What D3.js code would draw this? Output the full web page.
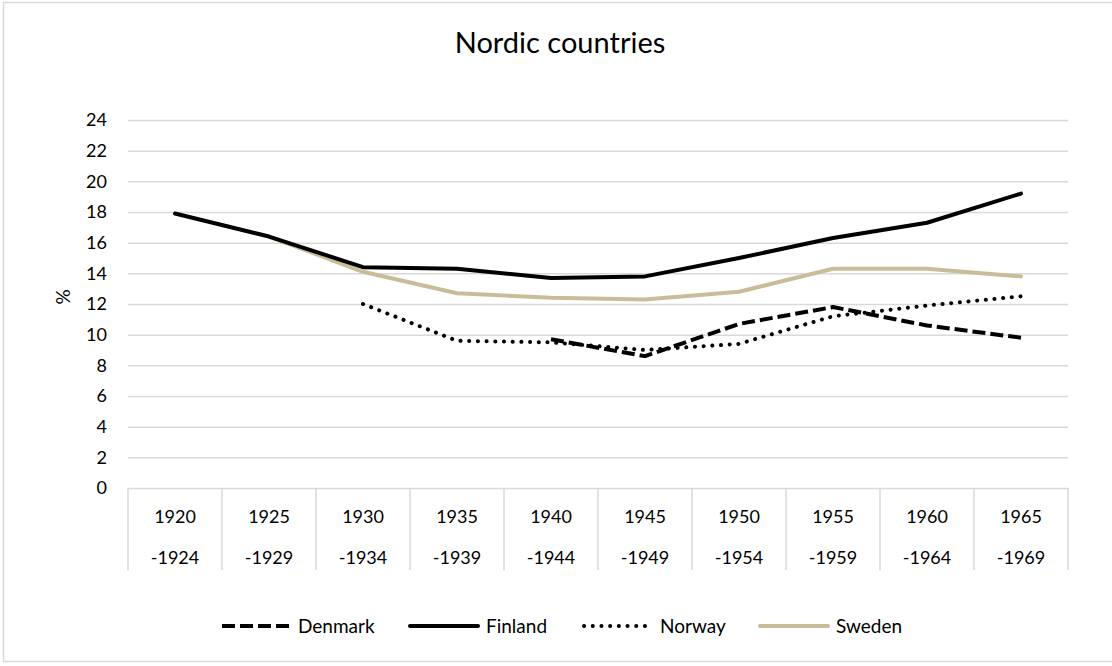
<!DOCTYPE html>
<html>
<head>
<meta charset="utf-8">
<script src="https://cdn.jsdelivr.net/npm/d3@7"></script>
<style>
  body { margin: 0; background: #fff; }
  text { font-family: Lato, "Open Sans", sans-serif; fill: #000; }
</style>
</head>
<body>
<div id="chart"></div>
<script>
// periods (two-line tick labels)
const periodStart = ["1920", "1925", "1930", "1935", "1940", "1945", "1950", "1955", "1960", "1965"];
const periodEnd = ["-1924", "-1929", "-1934", "-1939", "-1944", "-1949", "-1954", "-1959", "-1964", "-1969"];

// series values, % (null = no data)
const denmark = [null, null, null, null, 9.7, 8.6, 10.7, 11.8, 10.6, 9.8];
const finland = [17.9, 16.4, 14.4, 14.3, 13.7, 13.8, 15.0, 16.3, 17.3, 19.2];
const norway = [null, null, 12.0, 9.6, 9.5, 9.0, 9.4, 11.2, 11.9, 12.5];
const sweden = [null, 16.4, 14.1, 12.7, 12.4, 12.3, 12.8, 14.3, 14.3, 13.8];

const yTicks = [0, 2, 4, 6, 8, 10, 12, 14, 16, 18, 20, 22, 24];

const series = [
    {name: "Denmark", values: denmark, color: "#000", width: 4, dash: "13 5", cap: "butt"},
    {name: "Finland", values: finland, color: "#000", width: 4, dash: null, cap: "round"},
    {name: "Norway", values: norway, color: "#000", width: 4, dash: "0.1 8.6", cap: "round"},
    {name: "Sweden", values: sweden, color: "#c8bd98", width: 4, dash: null, cap: "round"}
];

const W = 1112, H = 666;
const margin = {top: 120, right: 44, bottom: 178, left: 128};
const width = W - margin.left - margin.right;
const height = H - margin.top - margin.bottom;

const svg = d3.select("#chart").append("svg")
    .attr("width", W)
    .attr("height", H);

// chart border
svg.append("rect")
    .attr("x", 3.5).attr("y", 2.5)
    .attr("width", W + 10).attr("height", 659)
    .attr("fill", "none")
    .attr("stroke", "#d9d9d9")
    .attr("stroke-width", 1.5);

svg.append("text")
    .attr("x", 560).attr("y", 53)
    .attr("text-anchor", "middle")
    .style("font-size", "29px")
    .text("Nordic countries");

const g = svg.append("g")
    .attr("transform", "translate(" + margin.left + "," + margin.top + ")");

const xScale = d3.scaleBand().domain(periodStart).range([0, width]);
const yScale = d3.scaleLinear().domain([0, 24]).range([height, 0]);

// gridlines
g.append("g")
    .attr("class", "grid")
    .call(d3.axisLeft(yScale).tickValues(yTicks).tickSize(-width).tickFormat(""))
    .call(s => s.select(".domain").remove())
    .call(s => s.selectAll("line").attr("stroke", "#d9d9d9").attr("stroke-width", 1.5));

// y axis labels
g.append("g")
    .attr("class", "yAxisG")
    .call(d3.axisLeft(yScale).tickValues(yTicks).tickSize(0).tickPadding(21))
    .call(s => s.select(".domain").remove())
    .call(s => s.selectAll("text").style("font-size", "18px").attr("fill", "#000"));

g.append("text")
    .attr("transform", "rotate(-90)")
    .attr("x", -(height / 2) + 7)
    .attr("y", -65)
    .attr("dy", "0.35em")
    .attr("text-anchor", "middle")
    .style("font-size", "19px")
    .text("%");

// category box dividers
const edges = periodStart.map(p => xScale(p)).concat([width]);
g.append("g")
    .selectAll("line")
    .data(edges)
    .join("line")
    .attr("x1", d => d).attr("x2", d => d)
    .attr("y1", height).attr("y2", height + 82)
    .attr("stroke", "#d9d9d9")
    .attr("stroke-width", 1.5);

const xLab = g.append("g")
    .selectAll("g")
    .data(periodStart)
    .join("g")
    .attr("transform", d => "translate(" + (xScale(d) + xScale.bandwidth() / 2) + "," + height + ")");
xLab.append("text")
    .attr("y", 35)
    .attr("text-anchor", "middle")
    .style("font-size", "18px")
    .text(d => d);
xLab.append("text")
    .attr("y", 76)
    .attr("text-anchor", "middle")
    .style("font-size", "18px")
    .text((d, i) => periodEnd[i]);

// lines
const line = d3.line()
    .defined(d => d != null)
    .x((d, i) => xScale(periodStart[i]) + xScale.bandwidth() / 2)
    .y(d => yScale(d));

// draw Sweden below the black lines
const drawOrder = [series[3], series[0], series[2], series[1]];
g.selectAll(".seriesLine")
    .data(drawOrder)
    .join("path")
    .attr("class", "seriesLine")
    .attr("d", d => line(d.values))
    .attr("fill", "none")
    .attr("stroke", d => d.color)
    .attr("stroke-width", d => d.width)
    .attr("stroke-dasharray", d => d.dash)
    .attr("stroke-linecap", d => d.cap)
    .attr("stroke-linejoin", "round");

// legend
const legendX = [222, 410, 584, 760];
const legend = svg.append("g")
    .selectAll("g")
    .data(series)
    .join("g")
    .attr("transform", (d, i) => "translate(" + legendX[i] + ",626)");
legend.append("line")
    .attr("x1", 0).attr("x2", 68)
    .attr("stroke", d => d.color)
    .attr("stroke-width", d => d.width)
    .attr("stroke-dasharray", d => d.dash)
    .attr("stroke-linecap", d => d.cap);
legend.append("text")
    .attr("x", 76)
    .attr("dy", "0.35em")
    .style("font-size", "19px")
    .text(d => d.name);
</script>
</body>
</html>
